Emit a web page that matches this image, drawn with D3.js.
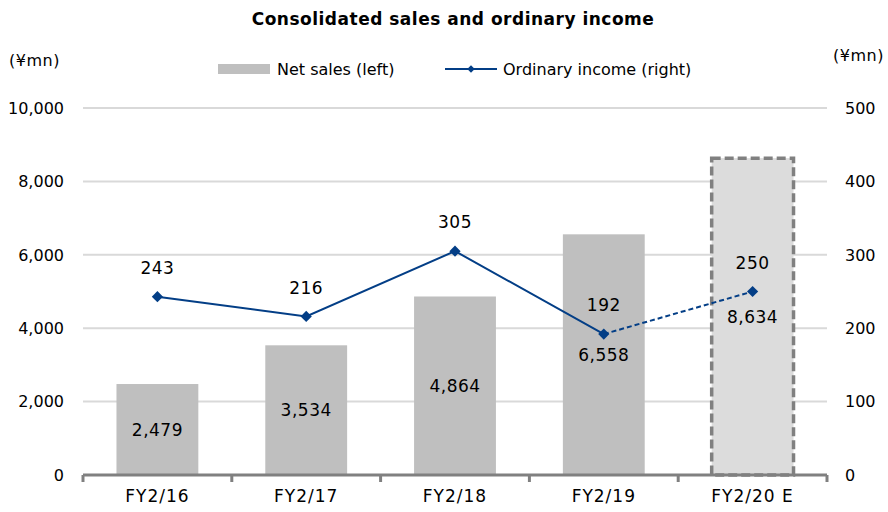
<!DOCTYPE html>
<html lang="en">
<head>
<meta charset="utf-8">
<title>Consolidated sales and ordinary income</title>
<script src="https://cdn.jsdelivr.net/npm/d3@7"></script>
<style>
  body { margin: 0; background: #fff; }
  text { font-family: "DejaVu Sans", sans-serif; fill: #000; }
</style>
</head>
<body>
<script>
var categories = ["FY2/16", "FY2/17", "FY2/18", "FY2/19", "FY2/20 E"];
var netSales = [2479, 3534, 4864, 6558, 8634];
var ordinaryIncome = [243, 216, 305, 192, 250];
var leftTicks = [0, 2000, 4000, 6000, 8000, 10000];
var rightTicks = [0, 100, 200, 300, 400, 500];

var width = 888, height = 512;
var margin = {top: 108, right: 61, bottom: 37, left: 83};
var innerW = width - margin.left - margin.right,
    innerH = height - margin.top - margin.bottom;

var lineColor = "#033e86";

var svg = d3.select("body").append("svg")
  .attr("width", width)
  .attr("height", height);

var g = svg.append("g")
  .attr("transform", "translate(" + margin.left + "," + margin.top + ")");

var x = d3.scaleBand().domain(categories).range([0, innerW]).paddingInner(0.45).paddingOuter(0.225);
var xc = d3.scaleBand().domain(categories).range([0, innerW]);
var yL = d3.scaleLinear().domain([0, 10000]).range([innerH, 0]);
var yR = d3.scaleLinear().domain([0, 500]).range([innerH, 0]);
var fmt = d3.format(",");

// gridlines
g.selectAll("line.grid")
  .data(leftTicks.slice(1))
  .enter().append("line")
  .attr("class", "grid")
  .attr("x1", 0).attr("x2", innerW)
  .attr("y1", function(d) { return yL(d); })
  .attr("y2", function(d) { return yL(d); })
  .style("stroke", "#d9d9d9")
  .style("stroke-width", "2px");

// left axis labels
g.selectAll("text.yl")
  .data(leftTicks)
  .enter().append("text")
  .attr("class", "yl")
  .attr("x", -19)
  .attr("y", function(d) { return yL(d); })
  .attr("dy", "0.36em")
  .attr("text-anchor", "end")
  .style("font-size", "16px")
  .text(function(d) { return fmt(d); });

// right axis labels
g.selectAll("text.yr")
  .data(rightTicks)
  .enter().append("text")
  .attr("class", "yr")
  .attr("x", innerW + 18)
  .attr("y", function(d) { return yR(d); })
  .attr("dy", "0.36em")
  .attr("text-anchor", "start")
  .style("font-size", "16px")
  .text(function(d) { return d; });

// bars
g.selectAll("rect.bar")
  .data(netSales)
  .enter().append("rect")
  .attr("class", "bar")
  .attr("x", function(d, i) { return x(categories[i]); })
  .attr("width", x.bandwidth())
  .attr("y", function(d) { return yL(d); })
  .attr("height", function(d) { return innerH - yL(d); })
  .style("fill", function(d, i) { return i === categories.length - 1 ? "#dcdcdc" : "#bfbfbf"; })
  .style("stroke", function(d, i) { return i === categories.length - 1 ? "#808080" : "none"; })
  .style("stroke-width", "3.5px")
  .style("stroke-dasharray", "9,4");

// bar labels
g.selectAll("text.barlab")
  .data(netSales)
  .enter().append("text")
  .attr("class", "barlab")
  .attr("x", function(d, i) { return xc(categories[i]) + xc.bandwidth() / 2; })
  .attr("y", function(d) { return (yL(d) + innerH) / 2; })
  .attr("dy", "0.36em")
  .attr("text-anchor", "middle")
  .style("font-size", "17px")
  .style("letter-spacing", "0.5px")
  .text(function(d) { return fmt(d); });

// x axis
var axis = g.append("g").attr("transform", "translate(0," + innerH + ")");
axis.append("line")
  .attr("x1", 0).attr("x2", innerW)
  .style("stroke", "#808080").style("stroke-width", "3px");
axis.selectAll("line.tick")
  .data(categories.concat([null]))
  .enter().append("line")
  .attr("class", "tick")
  .attr("x1", function(d, i) { return xc.step() * i; })
  .attr("x2", function(d, i) { return xc.step() * i; })
  .attr("y1", 0).attr("y2", 7)
  .style("stroke", "#808080").style("stroke-width", "3px");
axis.selectAll("text")
  .data(categories)
  .enter().append("text")
  .attr("x", function(d) { return xc(d) + xc.bandwidth() / 2; })
  .attr("y", 27)
  .attr("text-anchor", "middle")
  .style("font-size", "17px")
  .style("letter-spacing", "1px")
  .text(function(d) { return d; });

// line
var pts = ordinaryIncome.map(function(v, i) {
  return [xc(categories[i]) + xc.bandwidth() / 2, yR(v)];
});
var line = d3.line();
g.append("path")
  .attr("d", line(pts.slice(0, 4)))
  .style("fill", "none").style("stroke", lineColor).style("stroke-width", "2px");
g.append("path")
  .attr("d", line(pts.slice(3)))
  .style("fill", "none").style("stroke", lineColor).style("stroke-width", "2px")
  .style("stroke-dasharray", "5,3");

g.selectAll("path.pt")
  .data(pts)
  .enter().append("path")
  .attr("class", "pt")
  .attr("d", d3.symbol().type(d3.symbolDiamond2).size(80))
  .attr("transform", function(d) { return "translate(" + d[0] + "," + d[1] + ")"; })
  .style("fill", lineColor);

g.selectAll("text.ptlab")
  .data(ordinaryIncome)
  .enter().append("text")
  .attr("class", "ptlab")
  .attr("x", function(d, i) { return pts[i][0]; })
  .attr("y", function(d, i) { return pts[i][1] - 29; })
  .attr("dy", "0.36em")
  .attr("text-anchor", "middle")
  .style("font-size", "17px")
  .style("letter-spacing", "0.5px")
  .text(function(d) { return d; });

// title and units
svg.append("text")
  .attr("x", 453).attr("y", 25)
  .attr("text-anchor", "middle")
  .style("font-size", "17px").style("font-weight", "bold")
  .style("letter-spacing", "0.5px")
  .text("Consolidated sales and ordinary income");
svg.append("text")
  .attr("x", 9).attr("y", 66)
  .style("font-size", "16px")
  .style("letter-spacing", "0.5px")
  .text("(¥mn)");
svg.append("text")
  .attr("x", 833).attr("y", 61)
  .style("font-size", "16px")
  .style("letter-spacing", "0.5px")
  .text("(¥mn)");

// legend
var leg = svg.append("g");
leg.append("rect")
  .attr("x", 218).attr("y", 64).attr("width", 52).attr("height", 10)
  .style("fill", "#bfbfbf");
leg.append("text")
  .attr("x", 277).attr("y", 75)
  .style("font-size", "16px")
  .text("Net sales (left)");
leg.append("line")
  .attr("x1", 445).attr("x2", 497).attr("y1", 69).attr("y2", 69)
  .style("stroke", lineColor).style("stroke-width", "2px");
leg.append("path")
  .attr("d", d3.symbol().type(d3.symbolDiamond2).size(36))
  .attr("transform", "translate(471,69)")
  .style("fill", lineColor);
leg.append("text")
  .attr("x", 503).attr("y", 75)
  .style("font-size", "16px")
  .text("Ordinary income (right)");
</script>
</body>
</html>
